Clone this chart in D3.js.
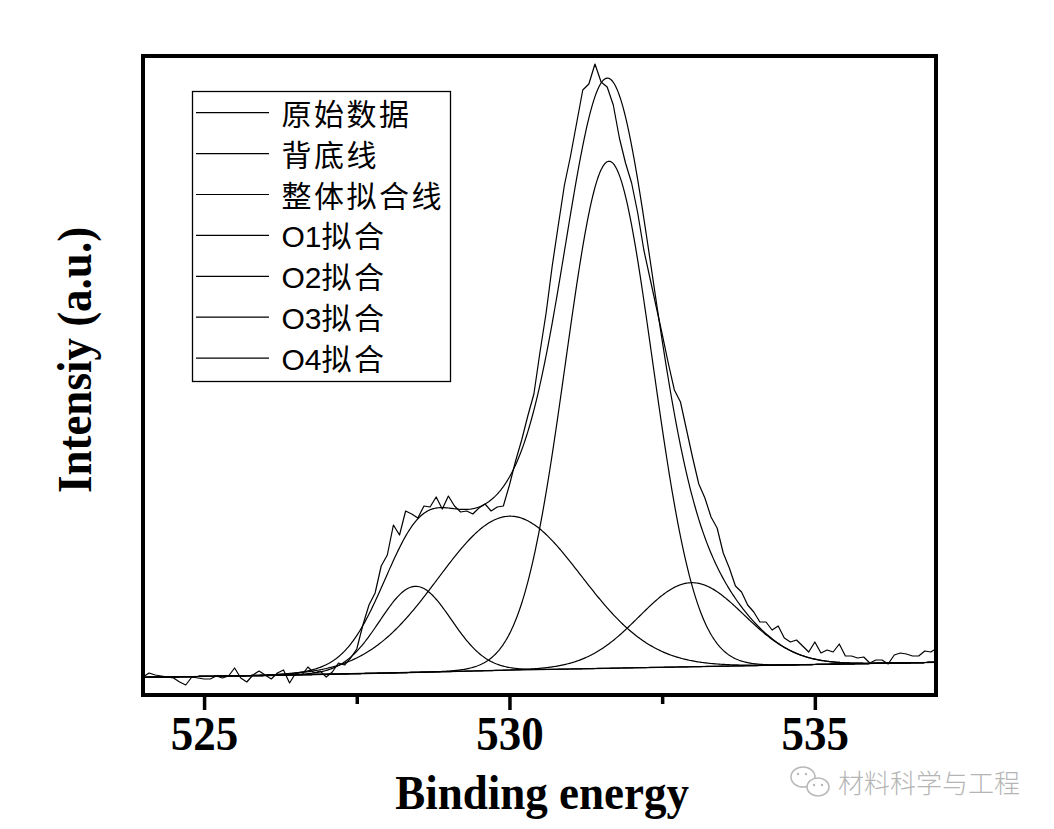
<!DOCTYPE html>
<html><head><meta charset="utf-8">
<script src="https://cdn.jsdelivr.net/npm/d3@7"></script>
<style>body{margin:0;background:#fff}</style>
</head><body>
<svg id="chart" width="1054" height="829"></svg>
<script>
// ---------- data ----------
const rawStart = 524.0, rawStep = 0.1;
const rawIntensity = [
 20,24,22,21,20,19,15,12,20,19,
 18,18,21,19,21,29,19,15,22,26,
 22,18,24,27,14,24,22,30,24,26,
 20,25,34,32,39,48,72,92,104,131,
 142,172,162,186,183,179,191,190,200,188,
 201,191,185,186,183,189,193,186,190,191,
 212,236,257,281,303,345,384,431,472,512,
 541,574,607,613,633,615,610,592,559,534,
 514,484,447,419,391,363,334,307,295,267,
 239,213,199,180,169,144,129,111,105,92,
 85,75,75,67,71,59,55,57,51,45,
 55,44,47,45,53,41,41,39,40,34,
 37,37,33,42,44,43,41,41,46,45,
 49
];
const bgEnergy    = [524, 526, 528, 530, 532, 534, 536, 537];
const bgIntensity = [19.7, 21.5, 24, 26.8, 29.2, 31.4, 33.6, 34.7];
// fitted Gaussian components (centre, height above background, sigma)
const peakNames   = ["O1", "O2", "O3", "O4"];
const peakCenters = [528.46, 530.0, 531.63, 532.98];
const peakHeights = [86, 154, 507, 84];
const peakSigmas  = [0.585, 1.17, 0.71, 0.86];
const legendLabels = [["","原始数据"],["","背底线"],["","整体拟合线"],["O1","拟合"],["O2","拟合"],["O3","拟合"],["O4","拟合"]];
const xMajorTicks = [525, 530, 535];
const xMinorTicks = [527.5, 532.5];
const xDomain = [524, 537];
const yDomain = [2, 641];

// ---------- layout ----------
const svg = d3.select("#chart");
const L = 143, R = 936, T = 56, B = 695;
const x = d3.scaleLinear().domain(xDomain).range([L, R + 1]);
const y = d3.scaleLinear().domain(yDomain).range([B, T]);
const serif = "'Liberation Serif','Times New Roman',serif";

const rawData = rawIntensity.map((v, i) => [rawStart + i * rawStep, v]);
const bgScale = d3.scaleLinear().domain(bgEnergy).range(bgIntensity);
const grid = d3.range(xDomain[0], xDomain[1] + 0.0001, 0.02);
const gauss = (e, k) => peakHeights[k] * Math.exp(-Math.pow(e - peakCenters[k], 2) / (2 * peakSigmas[k] * peakSigmas[k]));
const bgData = bgEnergy.map((e, i) => [e, bgIntensity[i]]);
const compData = peakNames.map((n, k) => grid.map(e => [e, bgScale(e) + gauss(e, k)]));
const envData = grid.map(e => [e, bgScale(e) + d3.sum(peakNames, (n, k) => gauss(e, k))]);

const line = d3.line().x(d => x(d[0])).y(d => y(d[1]));
const g = svg.append("g");
g.append("clipPath").attr("id", "clip").append("rect")
  .attr("x", L).attr("y", T).attr("width", R - L).attr("height", B - T);
const plot = g.append("g").attr("clip-path", "url(#clip)");
const drawLine = (d, w) => plot.append("path").datum(d).attr("d", line)
  .attr("fill", "none").attr("stroke", "#000").attr("stroke-width", w).attr("stroke-linejoin", "round");
drawLine(bgData, 1.3);
compData.forEach(d => drawLine(d, 1.2));
drawLine(envData, 1.2);
drawLine(rawData, 1.2);

// frame
svg.append("rect").attr("x", L).attr("y", T).attr("width", R - L).attr("height", B - T)
  .attr("fill", "none").attr("stroke", "#000").attr("stroke-width", 4);

// x axis ticks
const ax = svg.append("g").attr("transform", `translate(0,${B + 2})`)
  .call(d3.axisBottom(x).tickValues(xMajorTicks).tickSize(13).tickFormat(d3.format("d")));
ax.select(".domain").remove();
ax.selectAll(".tick line").attr("stroke", "#000").attr("stroke-width", 3.5);
ax.selectAll(".tick text").attr("fill", "#000").attr("y", 0).attr("dy", 0)
  .attr("font-family", serif).attr("font-weight", "bold").attr("font-size", 45)
  .attr("transform", "translate(0,53) scale(1,1.06)");
const axm = svg.append("g").attr("transform", `translate(0,${B + 2})`)
  .call(d3.axisBottom(x).tickValues(xMinorTicks).tickSize(7).tickFormat(""));
axm.select(".domain").remove();
axm.selectAll(".tick line").attr("stroke", "#000").attr("stroke-width", 3.5);

// axis titles
svg.append("text").attr("transform", "translate(542,809) scale(1,1.06)")
  .attr("text-anchor", "middle").attr("font-family", serif).attr("font-weight", "bold")
  .attr("font-size", 45).attr("fill", "#000").text("Binding energy");
svg.append("text").attr("transform", "translate(91,360) rotate(-90) scale(1,1.06)")
  .attr("text-anchor", "middle").attr("font-family", serif).attr("font-weight", "bold")
  .attr("font-size", 45).attr("fill", "#000").text("Intensiy (a.u.)");

// legend
const lg = svg.append("g");
lg.append("rect").attr("x", 192.5).attr("y", 91.5).attr("width", 258).attr("height", 290)
  .attr("fill", "#fff").attr("stroke", "#000").attr("stroke-width", 1.3);
legendLabels.forEach((lab, i) => {
  const ry = 112.7 + i * 40.9;
  lg.append("line").attr("x1", 196).attr("x2", 269).attr("y1", ry).attr("y2", ry)
    .attr("stroke", "#000").attr("stroke-width", 1.2);
  const t = lg.append("text").attr("x", 281.5).attr("y", ry + 12).attr("font-size", 30).attr("fill", "#000");
  if (lab[0]) t.append("tspan").attr("font-family", "'Liberation Sans',Arial,sans-serif").text(lab[0]);
  t.append("tspan").attr("font-family", "'Noto Sans CJK SC',sans-serif").attr("letter-spacing", "2.5px").text(lab[1]);
});

// watermark
const wm = svg.append("g").attr("fill", "none").attr("stroke", "#b8b8b8").attr("stroke-width", 1.5);
wm.append("ellipse").attr("cx", 803).attr("cy", 777).attr("rx", 12).attr("ry", 10).attr("fill", "#fff");
wm.append("ellipse").attr("cx", 818).attr("cy", 787).attr("rx", 11).attr("ry", 9).attr("fill", "#fff");
[[798,774],[806,774],[814,785],[822,785]].forEach(p => wm.append("circle").attr("cx", p[0]).attr("cy", p[1]).attr("r", 1.2).attr("fill", "#b8b8b8").attr("stroke", "none"));
svg.append("text").attr("x", 838).attr("y", 793).attr("font-family", "'Noto Sans CJK SC',sans-serif")
  .attr("font-size", 26).attr("fill", "#b5b5b5").attr("font-weight", 300).text("材料科学与工程");
</script>
</body></html>
